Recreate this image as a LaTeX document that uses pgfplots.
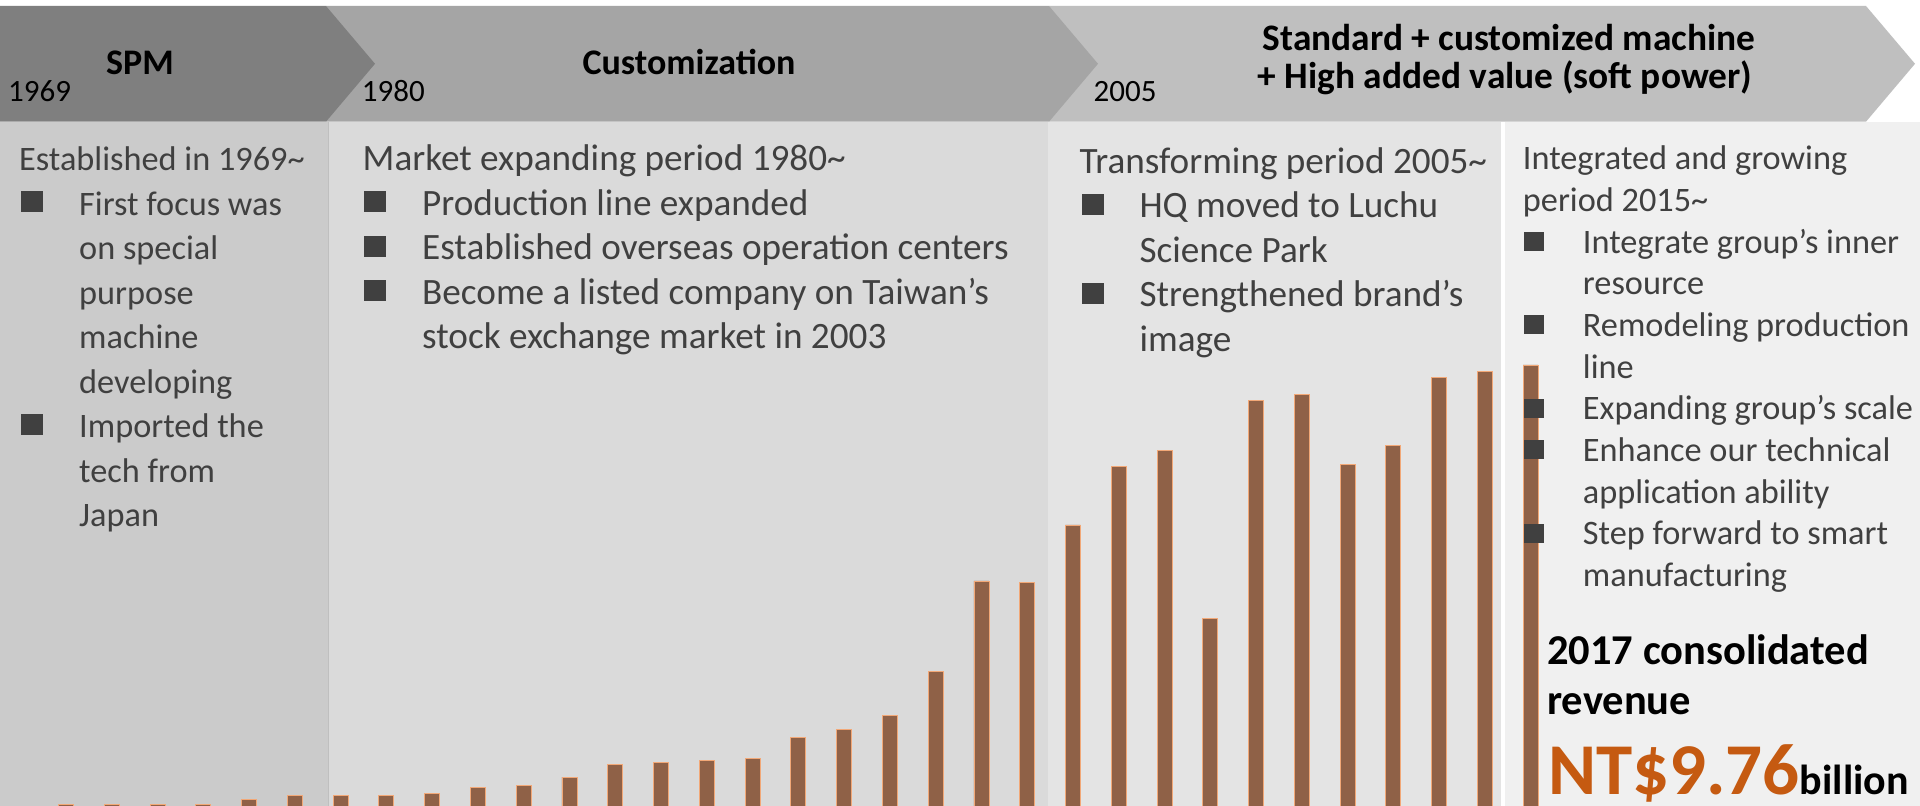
\documentclass[border=0pt]{standalone}
\usepackage{pgfplots}
\pgfplotsset{compat=1.18}
\usepackage{fontspec}
\setmainfont{Carlito}
\definecolor{c1}{HTML}{7F7F7F}
\definecolor{c2}{HTML}{A5A5A5}
\definecolor{c3}{HTML}{BFBFBF}
\definecolor{p1}{HTML}{CBCBCB}
\definecolor{p2}{HTML}{DADADA}
\definecolor{p3}{HTML}{E4E4E4}
\definecolor{p4}{HTML}{F0F0F0}
\definecolor{txt}{HTML}{404040}
\definecolor{barc}{HTML}{8F6147}
\definecolor{bared}{HTML}{F2A877}
\definecolor{orng}{HTML}{C55A11}
\newcommand{\bodyfont}{\fontsize{34.3}{40}\selectfont}
\newcommand{\bigfont}{\fontsize{37.2}{44}\selectfont}
\newcommand{\tl}[3]{\node[anchor=base west, inner sep=0pt, text=txt, font=\bodyfont] at (#1,#2) {#3};}
\newcommand{\tb}[3]{\node[anchor=base west, inner sep=0pt, text=txt, font=\bigfont] at (#1,#2) {#3};}
\newcommand{\bu}[2]{\fill[txt] (#1,#2-3) rectangle ++(22,-21);}
\newcommand{\bv}[2]{\fill[txt] (#1,#2-2.3) rectangle ++(20,-19);}
\begin{document}
\begin{tikzpicture}
\path[use as bounding box] (0,0) rectangle (1920pt,806pt);
\fill[white] (0,0) rectangle (1920pt,806pt);
\begin{scope}[x=1pt,y=-1pt,shift={(0pt,806pt)}]
\fill[p1] (0,121.7) rectangle (328,806);
\fill[p2] (328,121.7) rectangle (1048,806);
\fill[p3] (1048,121.7) rectangle (1501,806);
\fill[white] (1501,121.7) rectangle (1505,806);
\fill[p4] (1505,121.7) rectangle (1920,806);
\draw[c3, line width=0.8pt] (328,121.7) -- (328,806);
\fill[c3] (1049,6) -- (1866,6) -- (1915,63.8) -- (1866,121.7) -- (1049,121.7) -- cycle;
\fill[c2] (326,6) -- (1049,6) -- (1098,63.8) -- (1049,121.7) -- (326,121.7) -- cycle;
\fill[c1] (0,6) -- (326,6) -- (375,63.8) -- (326,121.7) -- (0,121.7) -- cycle;
\end{scope}
\begin{axis}[at={(0pt,0pt)}, anchor=south west, scale only axis,
  width=1920pt, height=806pt, xmin=-0.442, xmax=41.507, ymin=0, ymax=17.838,
  hide axis, clip=false]
\addplot[ybar, bar width=15pt, fill=barc, draw=bared, line width=0.8pt] coordinates {
(1,0.04) (2,0.04) (3,0.04) (4,0.04) (5,0.15) (6,0.24) (7,0.24) (8,0.24)
(9,0.28) (10,0.41) (11,0.45) (12,0.64) (13,0.91) (14,0.97) (15,1.01) (16,1.06)
(17,1.51) (18,1.70) (19,2.01) (20,2.97) (21,4.98) (22,4.94) (23,6.22) (24,7.51)
(25,7.87) (26,4.15) (27,8.97) (28,9.10) (29,7.55) (30,7.97) (31,9.48) (32,9.61) (33,9.76)};
\end{axis}
\begin{scope}[x=1pt,y=-1pt,shift={(0pt,806pt)}]
% banner text
\node[anchor=base, inner sep=0pt, font=\fontsize{36}{40}\selectfont\bfseries] at (140,75) {SPM};
\node[anchor=base, inner sep=0pt, font=\fontsize{36}{40}\selectfont\bfseries] at (689,75) {Customization};
\node[anchor=base, inner sep=0pt, font=\fontsize{37.4}{40}\selectfont\bfseries] at (1509,51) {Standard + customized machine};
\node[anchor=base, inner sep=0pt, font=\fontsize{37.4}{40}\selectfont\bfseries] at (1505,89) {+ High added value (soft power)};
\node[anchor=base west, inner sep=0pt, font=\fontsize{31}{36}\selectfont] at (8,101.7) {1969};
\node[anchor=base west, inner sep=0pt, font=\fontsize{31}{36}\selectfont] at (361.7,101.7) {1980};
\node[anchor=base west, inner sep=0pt, font=\fontsize{31}{36}\selectfont] at (1093.5,101.7) {2005};
% panel 1
\tl{19}{170.7}{Established in 1969\textasciitilde}
\bu{20.7}{215.2}\tl{79}{215.2}{First focus was}
\tl{79}{259.7}{on special}
\tl{79}{304.2}{purpose}
\tl{79}{348.7}{machine}
\tl{79}{393.2}{developing}
\bu{20.7}{437.7}\tl{79}{437.7}{Imported the}
\tl{79}{482.2}{tech from}
\tl{79}{526.7}{Japan}
% panel 2
\tb{362.5}{171}{Market expanding period 1980\textasciitilde}
\bu{364}{215.5}\tb{422}{215.5}{Production line expanded}
\bu{364}{260}\tb{422}{260}{Established overseas operation centers}
\bu{364}{304.5}\tb{422}{304.5}{Become a listed company on Taiwan’s}
\tb{422}{349}{stock exchange market in 2003}
% panel 3
\tb{1079.3}{173.3}{Transforming period 2005\textasciitilde}
\bu{1081.7}{217.8}\tb{1139.3}{217.8}{HQ moved to Luchu}
\tb{1139.3}{262.3}{Science Park}
\bu{1081.7}{306.8}\tb{1139.3}{306.8}{Strengthened brand’s}
\tb{1139.3}{351.3}{image}
% panel 4
\tl{1522.7}{170}{Integrated and growing}
\tl{1522.7}{211.7}{period 2015\textasciitilde}
\bv{1524}{253.3}\tl{1582.7}{253.3}{Integrate group’s inner}
\tl{1582.7}{295}{resource}
\bv{1524}{336.7}\tl{1582.7}{336.7}{Remodeling production}
\tl{1582.7}{378.3}{line}
\bv{1524}{420}\tl{1582.7}{420}{Expanding group’s scale}
\bv{1524}{461.7}\tl{1582.7}{461.7}{Enhance our technical}
\tl{1582.7}{503.3}{application ability}
\bv{1524}{545}\tl{1582.7}{545}{Step forward to smart}
\tl{1582.7}{586.7}{manufacturing}
% revenue
\node[anchor=base west, inner sep=0pt, font=\fontsize{42.5}{48}\selectfont\bfseries] at (1547,665) {2017 consolidated};
\node[anchor=base west, inner sep=0pt, font=\fontsize{42.5}{48}\selectfont\bfseries] at (1547,715) {revenue};
\node[anchor=base west, inner sep=0pt] at (1548,795) {\fontsize{73}{80}\selectfont\bfseries\textcolor{orng}{NT\$9.76}\fontsize{42}{48}\selectfont billion};
\end{scope}
\end{tikzpicture}
\end{document}
